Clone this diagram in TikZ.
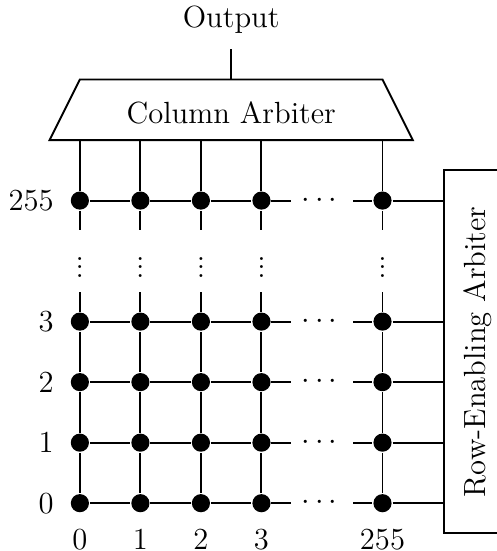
\documentclass[tikz,border=0pt]{standalone}
\usepackage{amsmath}
\usepackage{tikz}
\usetikzlibrary{positioning}
\tikzset{
    pixel/.style = {circle, fill=black, inner sep=0pt, minimum size=0.3cm},
    arbiter/.style = {draw, fill=white, font=\Large},
    hdots/.style = {inner sep=0pt, minimum width=1cm, font=\Large},
    vdots/.style = {inner sep=0pt, minimum height=1cm, font=\Large},
    index/.style = {font=\Large},
}

\begin{document}
\begin{tikzpicture}[line width=0.9pt]
\useasboundingbox (-1.32,-0.79) rectangle (6.876,8.314);

% crosspoints: columns/rows 0..3 and 255
\foreach \i/\x in {0/0,1/1,2/2,3/3,255/5}
    \foreach \j/\y in {0/0,1/1,2/2,3/3,255/5}
        \node[pixel] (p-\i-\j) at (\x,\y) {};

% ellipsis between column 3 and column 255, row 3 and row 255
\foreach \j/\y in {0/0,1/1,2/2,3/3,255/5}
    \node[hdots] (hd-\j) at (4,\y) {$\cdots$};
\foreach \i/\x in {0/0,1/1,2/2,3/3,255/5}
    \node[vdots] (vd-\i) at (\x,4) {$\vdots$};

% column arbiter (trapezoid)
\draw (-0.5,6) -- (0,7) -- (5,7) -- (5.5,6) -- cycle;
\coordinate (colarb-top) at (2.5,7);
\coordinate (colarb-bot) at (2.5,6);
\node[font=\Large] (colarb) at (2.5,6.45) {Column Arbiter};
\node[index, inner ysep=0.24cm, above=0.5cm of colarb-top] (out) {Output};
\draw (colarb-top) -- (out);

% row-enabling arbiter
\node[arbiter, rotate=90, anchor=north, minimum width=6cm, minimum height=1.12cm]
      (rowarb) at (6,2.5) {Row-Enabling Arbiter};

% row wires
\foreach \j in {0,1,2,3,255} {
    \draw (p-0-\j) -- (p-1-\j) -- (p-2-\j) -- (p-3-\j) -- (hd-\j);
    \draw (hd-\j) -- (p-255-\j) -- (p-255-\j -| rowarb.north);
}

% column wires
\foreach \i in {0,1,2,3,255} {
    \draw (p-\i-0) -- (p-\i-1) -- (p-\i-2) -- (p-\i-3) -- (vd-\i);
    \draw (vd-\i) -- (p-\i-255) -- (p-\i-255 |- colarb-bot);
}

% indices
\foreach \j/\y in {0/0,1/1,2/2,3/3,255/5}
    \node[index, anchor=east] (r-\j) at (-0.3,\y) {\j};
\foreach \i/\x in {0/0,1/1,2/2,3/3,255/5}
    \node[index] (c-\i) at (\x,-0.6) {\i};
\end{tikzpicture}
\end{document}
